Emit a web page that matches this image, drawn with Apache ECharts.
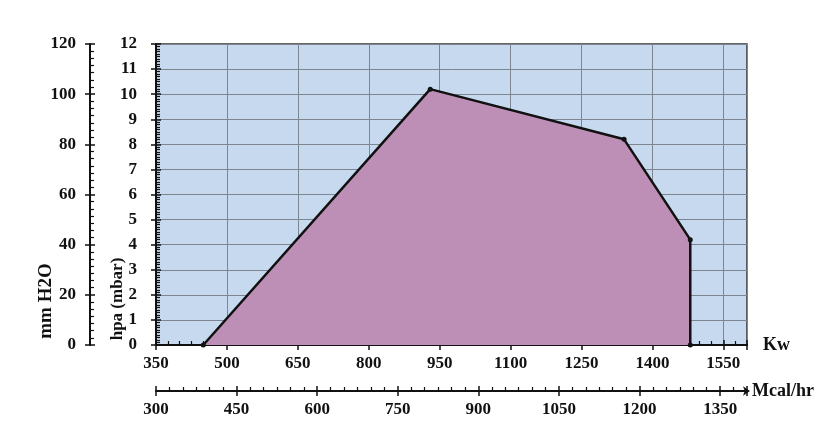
<!DOCTYPE html>
<html>
<head>
<meta charset="utf-8">
<script src="https://cdn.jsdelivr.net/npm/echarts@6/dist/echarts.min.js"></script>
<style>html,body{margin:0;padding:0;background:#fff;}#c{width:828px;height:445px;}</style>
</head>
<body>
<div id="c"></div>
<script>
// Data
const kwValues = [450, 930, 1340, 1480, 1480];
const hpaValues = [0, 10.2, 8.2, 4.2, 0];
const kwRange = [350, 1600];
const mcalRange = [300, 1400];
const hpaRange = [0, 12];
const mmRange = [0, 120];
const kwStep = 150, mcalStep = 150, hpaStep = 1, mmStep = 20;
const yNameMm = 'mm H2O';
const yNameHpa = 'hpa (mbar)';
const xNameKw = 'Kw';
const xNameMcal = 'Mcal/hr';

const FONT = 'Liberation Serif';
const lblStyle = { fontFamily: FONT, fontWeight: 'bold', fontSize: 17, color: '#111' };
const black = '#111';

function mainX(range, step, offset, name, gap, opts) {
  return Object.assign({
    type: 'value', position: 'bottom', offset: offset,
    min: range[0], max: range[1], interval: step,
    name: name, nameLocation: 'end', nameGap: gap,
    nameTextStyle: Object.assign({}, lblStyle, { fontSize: 18, verticalAlign: 'middle' }),
    axisLine: { show: true, onZero: false, lineStyle: { color: black, width: 2 } },
    axisTick: { show: true, inside: true, length: 5, lineStyle: { color: black, width: 1.5 } },
    minorTick: { show: true, splitNumber: 6, length: 4, lineStyle: { color: black, width: 1.2 } },
    axisLabel: Object.assign({}, lblStyle, { margin: 10,
      formatter: v => ((v - range[0]) % step === 0 ? String(v) : '') }),
    splitLine: { show: false }
  }, opts || {});
}
function ghostX(range, step, offset) {
  return {
    type: 'value', position: 'bottom', offset: offset,
    min: range[0], max: range[1], interval: step,
    axisLine: { show: false, onZero: false }, axisLabel: { show: false }, splitLine: { show: false },
    axisTick: { show: true, inside: false, length: 5, lineStyle: { color: black, width: 1.5 } }
  };
}
function mainY(range, step, offset, minorSplit, opts) {
  return Object.assign({
    type: 'value', position: 'left', offset: offset,
    min: range[0], max: range[1], interval: step,
    axisLine: { show: true, onZero: false, lineStyle: { color: black, width: 2 } },
    axisTick: { show: true, inside: true, length: 5, lineStyle: { color: black, width: 1.5 } },
    minorTick: { show: true, splitNumber: minorSplit, length: 4, lineStyle: { color: black, width: 1.2 } },
    axisLabel: Object.assign({}, lblStyle, { margin: 14 }),
    splitLine: { show: false }
  }, opts || {});
}
function ghostY(range, step, offset) {
  return {
    type: 'value', position: 'left', offset: offset,
    min: range[0], max: range[1], interval: step,
    axisLine: { show: false, onZero: false }, axisLabel: { show: false }, splitLine: { show: false },
    axisTick: { show: true, inside: false, length: 5, lineStyle: { color: black, width: 1.5 } }
  };
}

const chart = echarts.init(document.getElementById('c'), null, { renderer: 'canvas' });
chart.setOption({
  backgroundColor: '#ffffff',
  animation: false,
  grid: {
    left: 156, top: 44, right: 81, bottom: 100,
    show: true, backgroundColor: '#C6D9EF', borderColor: '#333', borderWidth: 1.5
  },
  xAxis: [
    mainX(kwRange, kwStep, 0, xNameKw, 16, {
      splitLine: { show: true, lineStyle: { color: '#7d8590', width: 1 } }
    }),
    ghostX(kwRange, kwStep, 0),
    mainX(mcalRange, mcalStep, 46, xNameMcal, 5, {
      axisLine: { show: true, onZero: false, symbol: ['none', 'arrow'], symbolSize: [7, 7], symbolOffset: [0, 3],
        lineStyle: { color: black, width: 2 } }
    }),
    ghostX(mcalRange, mcalStep, 46)
  ],
  yAxis: [
    mainY(hpaRange, hpaStep, 0, 10, {
      axisLabel: Object.assign({}, lblStyle, { margin: 19 }),
      splitLine: { show: true, lineStyle: { color: '#7d8590', width: 1 } }
    }),
    ghostY(hpaRange, hpaStep, 0),
    mainY(mmRange, mmStep, 66, 7, {}),
    ghostY(mmRange, mmStep, 66)
  ],
  graphic: [
    { type: 'text', x: 46, y: 301, rotation: Math.PI / 2,
      style: { text: yNameMm, font: 'bold 19px "Liberation Serif"', fill: '#111', align: 'center', verticalAlign: 'middle' } },
    { type: 'text', x: 118, y: 299, rotation: Math.PI / 2,
      style: { text: yNameHpa, font: 'bold 17px "Liberation Serif"', fill: '#111', align: 'center', verticalAlign: 'middle' } }
  ],
  series: [{
    type: 'line',
    xAxisIndex: 0, yAxisIndex: 0,
    data: kwValues.map((k, i) => [k, hpaValues[i]]),
    symbol: 'circle', symbolSize: 5,
    itemStyle: { color: '#111' },
    lineStyle: { color: '#111', width: 2.5 },
    areaStyle: { color: '#BE8FB6', opacity: 1 },
    z: 3
  }]
});
</script>
</body>
</html>
